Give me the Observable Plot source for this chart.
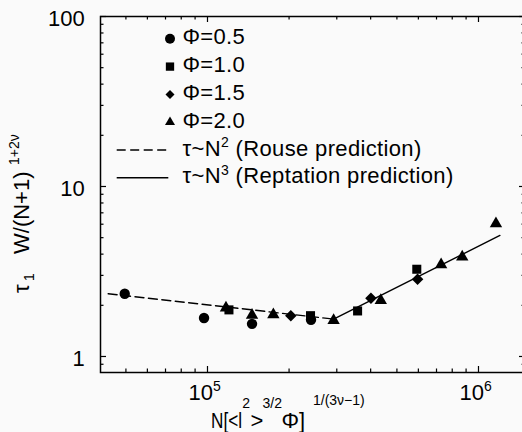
<!DOCTYPE html>
<html>
<head>
<meta charset="utf-8">
<script src="https://cdn.jsdelivr.net/npm/d3@7"></script>
<script src="https://cdn.jsdelivr.net/npm/@observablehq/plot@0.6"></script>
<style>
  html, body { margin: 0; padding: 0; background: #fafafa; overflow: hidden; }
</style>
</head>
<body>
<div id="chart"></div>
<script>
// ---- data ----
const phi05X = [4.95e4, 9.71e4, 1.46e5, 2.41e5];
const phi05Y = [2.34, 1.685, 1.556, 1.644];
const phi10X = [1.20e5, 2.40e5, 3.58e5, 5.92e5];
const phi10Y = [1.88, 1.738, 1.853, 3.26];
const phi15X = [2.03e5, 4.01e5, 5.96e5];
const phi15Y = [1.735, 2.20, 2.85];
const phi20X = [1.17e5, 1.46e5, 1.75e5, 2.92e5, 4.36e5, 7.28e5, 8.71e5, 1.16e6];
const phi20Y = [1.93, 1.75, 1.76, 1.63, 2.14, 3.47, 3.85, 6.04];
const rouseX = [4.30e4, 2.92e5];
const rouseY = [2.34, 1.66];
const reptX = [2.92e5, 1.20e6];
const reptY = [1.66, 5.15];

const xMajorTicks = [1e5, 1e6];
const xTickExponents = ["5", "6"];
const xMinorTicks = [5e4, 6e4, 7e4, 8e4, 9e4, 2e5, 3e5, 4e5, 5e5, 6e5, 7e5, 8e5, 9e5];
const yMajorTicks = [1, 10, 100];
const yTickLabels = ["1", "10", "100"];
const yMinorTicks = [0.9, 2, 3, 4, 5, 6, 7, 8, 9, 20, 30, 40, 50, 60, 70, 80, 90];
const seriesLabels = ["Φ=0.5", "Φ=1.0", "Φ=1.5", "Φ=2.0"];

// ---- layout ----
const W = 522, H = 432;
const mL = 100, mR = -3, mT = 16, mB = 60;
const plotW = W - mL - mR;
const plotH = H - mT - mB;
const FONT = "'Liberation Sans', Arial, Helvetica, sans-serif";
const BG = "#fafafa";
const pts = (xs, ys) => xs.map((x, i) => ({x, y: ys[i]}));

const tickStyle = {stroke: "black", strokeWidth: 1.2};
const chart = Plot.plot({
  width: W, height: H,
  marginLeft: mL, marginRight: mR, marginTop: mT, marginBottom: mB,
  style: {background: BG, fontFamily: FONT, overflow: "hidden", color: "black"},
  x: {type: "log", domain: [40290, 1.491e6], axis: null},
  y: {type: "log", domain: [0.805, 100], axis: null},
  marks: [
    Plot.tickX(xMinorTicks, {x: d => d, insetTop: plotH - 3.5, ...tickStyle}),
    Plot.tickX(xMinorTicks, {x: d => d, insetBottom: plotH - 3.5, ...tickStyle}),
    Plot.tickX(xMajorTicks, {x: d => d, insetTop: plotH - 6, ...tickStyle}),
    Plot.tickX(xMajorTicks, {x: d => d, insetBottom: plotH - 6, ...tickStyle}),
    Plot.tickY(yMinorTicks, {y: d => d, insetRight: plotW - 3.5, ...tickStyle}),
    Plot.tickY(yMinorTicks, {y: d => d, insetLeft: plotW - 3.5, ...tickStyle}),
    Plot.tickY(yMajorTicks, {y: d => d, insetRight: plotW - 6, ...tickStyle}),
    Plot.tickY(yMajorTicks, {y: d => d, insetLeft: plotW - 6, ...tickStyle}),
    Plot.line(pts(rouseX, rouseY), {x: "x", y: "y", stroke: "black", strokeWidth: 1.4, strokeDasharray: "9,4.5"}),
    Plot.line(pts(reptX, reptY), {x: "x", y: "y", stroke: "black", strokeWidth: 1.4}),
    Plot.dot(pts(phi05X, phi05Y), {x: "x", y: "y", symbol: "circle", r: 5.2, fill: "black", stroke: "none"}),
    Plot.dot(pts(phi10X, phi10Y), {x: "x", y: "y", symbol: "square", r: 5.1, fill: "black", stroke: "none"}),
    Plot.dot(pts(phi15X, phi15Y), {x: "x", y: "y", symbol: "diamond2", r: 5.2, fill: "black", stroke: "none"}),
    Plot.dot(pts(phi20X, phi20Y), {x: "x", y: "y", symbol: "triangle", r: 4.6, fill: "black", stroke: "none"}),
    Plot.frame({stroke: "black", strokeWidth: 1.5}),
    Plot.text(xMajorTicks, {x: d => d, frameAnchor: "bottom", text: () => "10", textAnchor: "end", lineAnchor: "bottom", dx: 5.5, dy: 27.3, fontSize: 22, fill: "black"}),
    Plot.text(xMajorTicks, {x: d => d, frameAnchor: "bottom", text: (d, i) => xTickExponents[i], textAnchor: "start", lineAnchor: "bottom", dx: 5.5, dy: 18.7, fontSize: 14, fill: "black"}),
    Plot.text(yMajorTicks, {y: d => d, frameAnchor: "left", text: (d, i) => yTickLabels[i], textAnchor: "end", dx: -15.8, dy: 2, fontSize: 22, fill: "black"})
  ]
});
document.getElementById("chart").appendChild(chart);

const svg = d3.select(chart);
const g = svg.append("g").attr("font-family", FONT).attr("fill", "black").attr("text-anchor", "start");

// legend
const legendBase0 = 44.3, legendStep = 27.8, legendMarkX = 170, legendTextX = 182.5;
const legendSymbols = [
  [d3.symbolCircle, Math.PI * 25],
  [d3.symbolSquare, 69],
  [d3.symbolDiamond2, 52],
  [d3.symbolTriangle, 43.3]
];
seriesLabels.forEach((lab, i) => {
  const base = legendBase0 + i * legendStep;
  g.append("path")
    .attr("d", d3.symbol(legendSymbols[i][0], legendSymbols[i][1])())
    .attr("transform", `translate(${legendMarkX},${base - 5.5})`);
  g.append("text").attr("x", legendTextX).attr("y", base).attr("font-size", 22)
    .attr("letter-spacing", 0.3).text(lab);
});
const lineLegend = [
  {dash: "9,4.5", power: "2", desc: " (Rouse prediction)"},
  {dash: null, power: "3", desc: " (Reptation prediction)"}
];
lineLegend.forEach((d, j) => {
  const base = legendBase0 + (4 + j) * legendStep;
  g.append("line").attr("x1", 116.7).attr("x2", 168.3)
    .attr("y1", base - 5.5).attr("y2", base - 5.5)
    .attr("stroke", "black").attr("stroke-width", 1.4)
    .attr("stroke-dasharray", d.dash);
  const t = g.append("text").attr("x", legendTextX).attr("y", base).attr("font-size", 22)
    .attr("letter-spacing", 0.35).style("white-space", "pre");
  t.append("tspan").text("τ~N");
  t.append("tspan").attr("dy", -8.5).attr("font-size", 14).text(d.power);
  t.append("tspan").attr("dy", 8.5).text(d.desc);
});

// y axis title (rotated)
const yg = g.append("g").attr("transform", "translate(29,293) rotate(-90)");
const yl = yg.append("text").attr("x", 0).attr("y", 0).attr("font-size", 22);
yl.append("tspan").attr("x", 0).text("τ");
yl.append("tspan").attr("x", 12).attr("dy", 5).attr("font-size", 14).text("1");
yl.append("tspan").attr("x", 39).attr("dy", -5).text("W/(N+1)");
yl.append("tspan").attr("x", 128).attr("dy", -9.7).attr("font-size", 14).text("1+2ν");

// x axis title
const xPieces = [
  {t: "N[<l", x: 211, y: 428, fs: 22, len: 31},
  {t: "2", x: 242.3, y: 407.5, fs: 14},
  {t: ">", x: 250.5, y: 428, fs: 22},
  {t: "3/2", x: 262.5, y: 407.5, fs: 14},
  {t: "Φ]", x: 281.5, y: 428, fs: 22},
  {t: "1/(3ν−1)", x: 313, y: 405, fs: 14}
];
xPieces.forEach(p => {
  const e = g.append("text").attr("x", p.x).attr("y", p.y).attr("font-size", p.fs).text(p.t);
  if (p.len) e.attr("textLength", p.len).attr("lengthAdjust", "spacingAndGlyphs");
});
</script>
</body>
</html>
